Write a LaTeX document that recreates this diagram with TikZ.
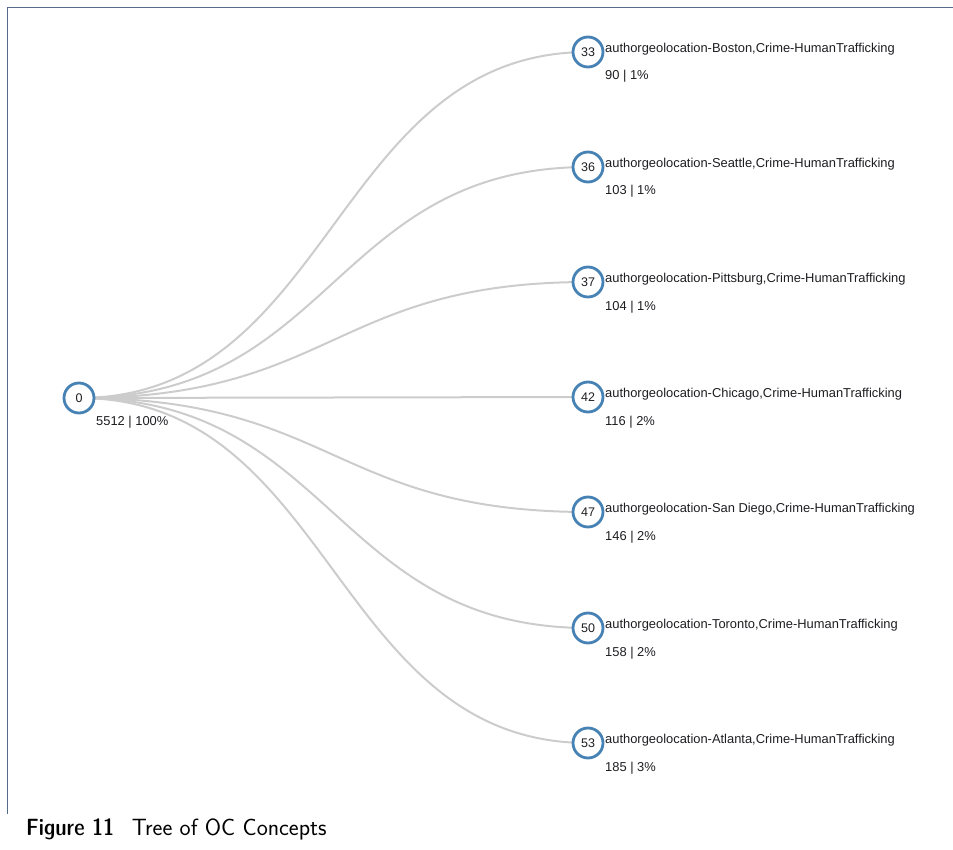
\documentclass[tikz,border=0pt]{standalone}
\usepackage{fontspec}
\setmainfont{Liberation Sans}
\setsansfont{Latin Modern Sans}
\newfontfamily\captionbold{Latin Modern Sans Demi Cond}
\usetikzlibrary{backgrounds}
\definecolor{nodeblue}{RGB}{70,130,180}
\definecolor{linkgray}{RGB}{204,204,204}
\definecolor{framecol}{RGB}{84,108,140}
\definecolor{textcol}{RGB}{30,30,34}
\tikzset{
  treenode/.style={circle, draw=nodeblue, line width=2.8pt, fill=white,
    minimum size=30pt, inner sep=0pt, font=\fontsize{12.5}{12.5}\selectfont, text=textcol},
  link/.style={draw=linkgray, line width=2pt},
  conceptlabel/.style={anchor=base west, inner sep=0pt, font=\fontsize{12.9}{12.9}\selectfont, text=textcol},
  countlabel/.style={anchor=base west, inner sep=0pt, font=\fontsize{12.9}{12.9}\selectfont, text=textcol},
}
\begin{document}
\begin{tikzpicture}[x=1pt,y=-1pt]
\useasboundingbox (0,0) rectangle (953,850);
% frame
\draw[framecol, line width=1.6pt] (7.5,814) -- (7.5,7.5) -- (953,7.5);

% root
\node[treenode] (root) at (79,398) {0};
\node[countlabel] (rootcount) at (96,425) {5512 | 100\%};

% children
\foreach \id/\y/\city/\cnt in {
  33/52/Boston/{90 | 1\%},
  36/167/Seattle/{103 | 1\%},
  37/282/Pittsburg/{104 | 1\%},
  42/397/Chicago/{116 | 2\%},
  47/512/San Diego/{146 | 2\%},
  50/628/Toronto/{158 | 2\%},
  53/743/Atlanta/{185 | 3\%}}{
  \node[treenode] (c\id) at (588,\y) {\id};
  \node[conceptlabel] (l\id) at (605,\y+0.5) {authorgeolocation-\city,Crime-HumanTrafficking};
  \node[countlabel] (n\id) at (605,\y+28) {\cnt};
}

% links behind the nodes
\begin{scope}[on background layer]
\foreach \id in {33,36,37,42,47,50,53}{
  \draw[link] (root.center) .. controls +(254.5,0) and +(-254.5,0) .. (c\id.center);
}
\end{scope}

% caption
\node[anchor=base west, inner sep=0pt, font=\sffamily\fontsize{23.5}{23.5}\selectfont] (caption) at (26,835)
  {{\captionbold Figure 11}\hspace{0.75em}Tree of OC Concepts};
\end{tikzpicture}
\end{document}
